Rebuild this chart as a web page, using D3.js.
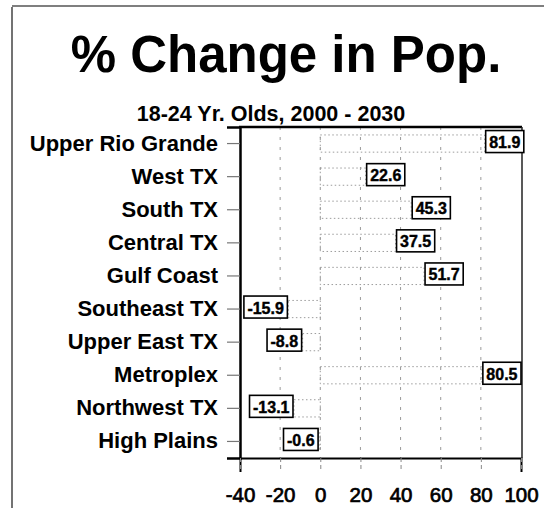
<!DOCTYPE html>
<html>
<head>
<meta charset="utf-8">
<script src="https://cdn.jsdelivr.net/npm/d3@7"></script>
<style>
  html, body { margin: 0; padding: 0; background: #fff; }
  svg { display: block; font-family: "Liberation Sans", Arial, sans-serif; }
</style>
</head>
<body>
<svg id="chart" width="544" height="508"></svg>
<script>
const categories = ["Upper Rio Grande", "West TX", "South TX", "Central TX", "Gulf Coast",
  "Southeast TX", "Upper East TX", "Metroplex", "Northwest TX", "High Plains"];
const values = [81.9, 22.6, 45.3, 37.5, 51.7, -15.9, -8.8, 80.5, -13.1, -0.6];
const xTicks = [-40, -20, 0, 20, 40, 60, 80, 100];
const gridTicks = [-20, 0, 20, 40, 60, 80];
const titleText = "% Change in Pop.";
const subtitleText = "18-24 Yr. Olds, 2000 - 2030";

const data = categories.map((c, i) => ({ cat: c, v: values[i] }));

const svg = d3.select("#chart");
const pL = 240, pR = 521, pT = 127, pB = 458;

const x = d3.scaleLinear().domain([-40, 100]).range([pL, pR]);
const y = d3.scaleBand().domain(categories).range([pT, pB]).paddingInner(0.48).paddingOuter(0.24);

// outer frame
svg.append("line").attr("x1", 12).attr("x2", 12).attr("y1", 7).attr("y2", 508)
  .attr("stroke", "#444").attr("stroke-width", 1.5);
svg.append("line").attr("x1", 12).attr("x2", 544).attr("y1", 6).attr("y2", 6)
  .attr("stroke", "#555").attr("stroke-width", 1.5);

// titles
svg.append("text").attr("x", 286).attr("y", 72).attr("text-anchor", "middle")
  .attr("font-size", 51).attr("font-weight", "bold").attr("fill", "#000").text(titleText);
svg.append("text").attr("x", 271).attr("y", 121).attr("text-anchor", "middle")
  .attr("font-size", 21.5).attr("font-weight", "bold").attr("fill", "#000").text(subtitleText);

// gridlines
svg.append("g").selectAll("line").data(gridTicks).join("line")
  .attr("x1", d => x(d)).attr("x2", d => x(d))
  .attr("y1", pT).attr("y2", pB)
  .attr("stroke", "#9a9a9a").attr("stroke-width", 1).attr("stroke-dasharray", "3,7");

// bars (faint dotted outlines)
svg.append("g").selectAll("rect").data(data).join("rect")
  .attr("x", d => x(Math.min(0, d.v)))
  .attr("y", d => y(d.cat))
  .attr("width", d => Math.abs(x(d.v) - x(0)))
  .attr("height", y.bandwidth())
  .attr("fill", "none")
  .attr("stroke", "#9c9c9c").attr("stroke-width", 1).attr("stroke-dasharray", "1.5,2.5");

// left axis
const yAxis = svg.append("g").attr("transform", `translate(${pL},0)`)
  .call(d3.axisLeft(y).tickSize(13).tickPadding(9));
yAxis.select(".domain").attr("stroke", "#000").attr("stroke-width", 2.5);
yAxis.selectAll(".tick line").attr("stroke", "#777").attr("stroke-width", 1.2);
yAxis.selectAll(".tick text").attr("font-size", 22).attr("font-weight", "bold").attr("fill", "#000")
  .attr("font-family", "'Liberation Sans', Arial, sans-serif");

// bottom axis
const xAxis = svg.append("g").attr("transform", `translate(0,${pB})`)
  .call(d3.axisBottom(x).tickValues(xTicks).tickSize(14).tickPadding(15).tickFormat(d3.format("d")));
xAxis.select(".domain").attr("stroke", "#000").attr("stroke-width", 2);
xAxis.selectAll(".tick line").attr("stroke", "#888").attr("stroke-dasharray", "4,3");
xAxis.selectAll(".tick text").attr("font-size", 20.5).attr("fill", "#000")
  .attr("stroke", "#000").attr("stroke-width", 0.7)
  .attr("font-family", "'Liberation Sans', Arial, sans-serif")
  .text(d => (d < 0 ? "-" + Math.abs(d) : d));

// top and right frame of plot
svg.append("line").attr("x1", pL - 1).attr("x2", pR + 1).attr("y1", pT).attr("y2", pT)
  .attr("stroke", "#000").attr("stroke-width", 2.5);
svg.append("line").attr("x1", pR + 1).attr("x2", pR + 1).attr("y1", pT).attr("y2", pB)
  .attr("stroke", "#222").attr("stroke-width", 1.5);

// value labels
const lab = svg.append("g").selectAll("g").data(data).join("g");
lab.each(function(d) {
  const g = d3.select(this);
  const t = g.append("text")
    .attr("font-size", 16).attr("font-weight", "bold").attr("fill", "#000")
    .attr("stroke", "#000").attr("stroke-width", 0.4)
    .attr("dominant-baseline", "central")
    .text(d.v.toFixed(1));
  const w = t.node().getComputedTextLength() + 7;
  const h = 22;
  const cy = y(d.cat) + y.bandwidth() / 2 - 2;
  const bx = d.v >= 0 ? x(d.v) + 1 : x(d.v) - w - 1;
  g.insert("rect", "text")
    .attr("x", bx).attr("y", cy - h / 2).attr("width", w).attr("height", h)
    .attr("fill", "#fff").attr("stroke", "#000").attr("stroke-width", 1.6);
  t.attr("x", bx + 3.5).attr("y", cy + 1);
});
</script>
</body>
</html>
